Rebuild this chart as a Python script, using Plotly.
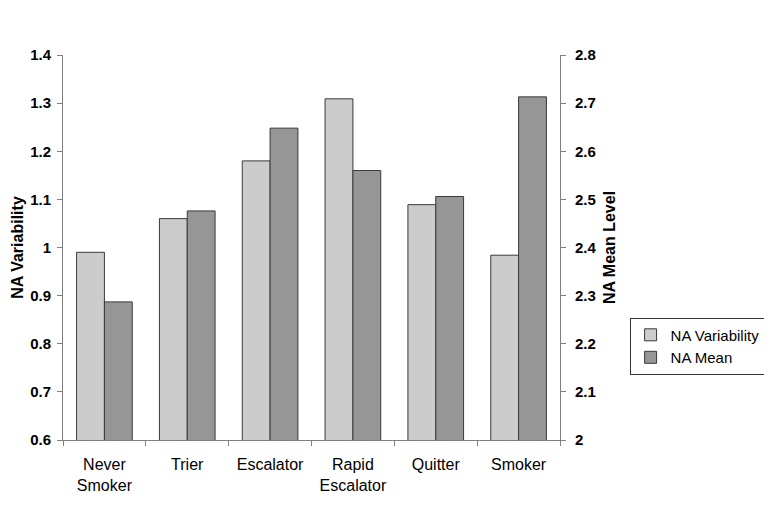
import plotly.graph_objects as go

categories = ["Never<br>Smoker", "Trier", "Escalator", "Rapid<br>Escalator", "Quitter", "Smoker"]
na_variability = [0.990, 1.060, 1.180, 1.309, 1.089, 0.984]
na_mean = [2.287, 2.476, 2.648, 2.560, 2.506, 2.713]

left_ticks = [0.6, 0.7, 0.8, 0.9, 1.0, 1.1, 1.2, 1.3, 1.4]
left_text = ["0.6", "0.7", "0.8", "0.9", "1", "1.1", "1.2", "1.3", "1.4"]
right_ticks = [2.0, 2.1, 2.2, 2.3, 2.4, 2.5, 2.6, 2.7, 2.8]
right_text = ["2", "2.1", "2.2", "2.3", "2.4", "2.5", "2.6", "2.7", "2.8"]

FONT = "Liberation Sans, Arial, sans-serif"
AXIS_GREY = "#808080"
BAR_W = 0.336

fig = go.Figure()
fig.add_trace(go.Bar(
    x=categories, y=na_variability, name="NA Variability",
    marker=dict(color="#CCCCCC", line=dict(color="#3a3a3a", width=1)),
    width=BAR_W, offset=-BAR_W, yaxis="y",
))
fig.add_trace(go.Bar(
    x=categories, y=na_mean, name="NA Mean",
    marker=dict(color="#969696", line=dict(color="#3a3a3a", width=1)),
    width=BAR_W, offset=0, yaxis="y2",
))

tickfont = dict(family=FONT, size=15, color="#000000", weight="bold")
titlefont = dict(family=FONT, size=16, color="#000000", weight="bold")

fig.update_layout(
    width=772, height=505,
    # page body adds an 8px offset, margins compensate for it
    margin=dict(l=55, r=220, t=47, b=73),
    plot_bgcolor="#FFFFFF", paper_bgcolor="#FFFFFF",
    font=dict(family=FONT, color="#000000"),
    barmode="overlay",
    xaxis=dict(
        type="category", tickson="boundaries", ticks="outside", ticklen=5,
        tickcolor=AXIS_GREY, showline=True, linecolor=AXIS_GREY, linewidth=1,
        showgrid=False, automargin=False, ticklabelstandoff=10,
        tickfont=dict(family=FONT, size=16, color="#000000"),
    ),
    yaxis=dict(
        range=[0.6, 1.4], tickmode="array", tickvals=left_ticks, ticktext=left_text,
        ticks="outside", ticklen=5, tickcolor=AXIS_GREY, showline=True,
        linecolor=AXIS_GREY, linewidth=1, showgrid=False, zeroline=False,
        automargin=False, ticklabelstandoff=3,
        tickfont=tickfont, title=dict(text="NA Variability", font=titlefont, standoff=2),
    ),
    yaxis2=dict(
        range=[2.0, 2.8], tickmode="array", tickvals=right_ticks, ticktext=right_text,
        overlaying="y", side="right",
        ticks="outside", ticklen=5, tickcolor=AXIS_GREY, showline=True,
        linecolor=AXIS_GREY, linewidth=1, showgrid=False, zeroline=False,
        automargin=False, ticklabelstandoff=6,
        tickfont=tickfont, title=dict(text="NA Mean Level", font=titlefont, standoff=8),
    ),
    showlegend=True,
    legend=dict(
        x=1.14, xanchor="left", y=0.318, yanchor="top",
        bordercolor="#333333", borderwidth=1, bgcolor="#FFFFFF",
        font=dict(family=FONT, size=15, color="#000000"),
    ),
)

fig.write_html("out.html")
